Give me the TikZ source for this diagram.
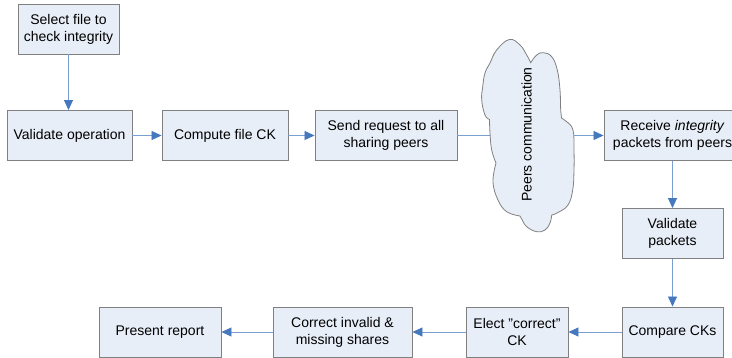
\documentclass[tikz,border=0pt]{standalone}
\usepackage{fontspec}
\setmainfont{Liberation Sans}[Ligatures=NoCommon]
\usetikzlibrary{arrows.meta}
\definecolor{boxfill}{RGB}{232,238,248}
\definecolor{boxline}{RGB}{128,128,128}
\definecolor{connline}{RGB}{120,158,210}
\definecolor{tipblue}{RGB}{70,120,190}
\tikzset{
  stepbox/.style={draw=boxline, fill=boxfill, line width=0.9pt, align=center,
    inner sep=0pt, minimum height=50pt, font=\fontsize{14}{17}\selectfont},
  conn/.style={draw=connline, line width=0.8pt,
    -{Triangle[length=10pt,width=9pt,color=tipblue,fill=tipblue]}},
}
\begin{document}
\begin{tikzpicture}[x=1pt,y=-1pt]
\useasboundingbox (0,0) rectangle (732,358);

% process steps
\node[stepbox, minimum width=101pt] (sel)   at (68.5,29)   {Select file to\\check integrity};
\node[stepbox, minimum width=125pt] (valop) at (69.5,135.5) {Validate operation};
\node[stepbox, minimum width=126pt] (comp)  at (225,135.5)  {Compute file CK};
\node[stepbox, minimum width=142pt] (send)  at (386,135.5)  {Send request to all\\sharing peers};
\node[stepbox, minimum width=137pt] (recv)  at (672.5,135.5) {Receive \textit{integrity}\\packets from peers};
\node[stepbox, minimum width=101pt] (valpk) at (672.5,233.5) {Validate\\packets};
\node[stepbox, minimum width=101pt] (cmp)   at (672.5,332)  {Compare CKs};
\node[stepbox, minimum width=102pt] (elect) at (517,332)    {Elect \char"22 correct\char"22\\CK};
\node[stepbox, minimum width=139pt] (corr)  at (342.5,332)  {Correct invalid \&\\missing shares};
\node[stepbox, minimum width=122pt] (pres)  at (160,332)    {Present report};

% connectors
\draw[conn] (sel.south) -- (sel.south |- valop.north);
\draw[conn] (valop) -- (comp);
\draw[conn] (comp) -- (send);
\draw[conn] (send) -- (recv);
\draw[conn] (recv) -- (valpk);
\draw[conn] (valpk) -- (cmp);
\draw[conn] (cmp) -- (elect);
\draw[conn] (elect) -- (corr);
\draw[conn] (corr) -- (pres);

% cloud drawn over the request line
\draw[draw=boxline, fill=boxfill, line width=0.8pt]
  plot[smooth, tension=0.7] coordinates {(489.5,119.5) (485,115) (481.7,100) (482.7,86.7) (485,73) (490,63) (496.7,50) (509.3,39.5) (520,45) (526.7,55) (530.7,62.7)}
  -- plot[smooth, tension=0.7] coordinates {(530.7,62.7) (536.7,55) (543.3,52.7) (551.7,56.7) (557.3,70) (560,90) (560.7,110) (561.7,118.3)}
  -- plot[smooth, tension=0.7] coordinates {(561.7,118.3) (566.7,121.7) (573,130) (574,150) (574,170) (572.7,190) (568,205) (558,212.5) (551.7,215)}
  -- plot[smooth, tension=0.7] coordinates {(551.7,215) (550,223) (545,230) (536.7,231.7) (526.7,226.7) (521.7,219) (520,216)}
  -- plot[smooth, tension=0.7] coordinates {(520,216) (506.7,211.7) (498,200) (493,182) (496,163)}
  -- plot[smooth, tension=0.7] coordinates {(496,163) (491.7,150) (490,133) (489.5,119.5)}
  -- cycle;
\node[rotate=90, font=\fontsize{14}{17}\selectfont, inner sep=0pt] (peers) at (526.5,134.5) {Peers communication};
\end{tikzpicture}
\end{document}
